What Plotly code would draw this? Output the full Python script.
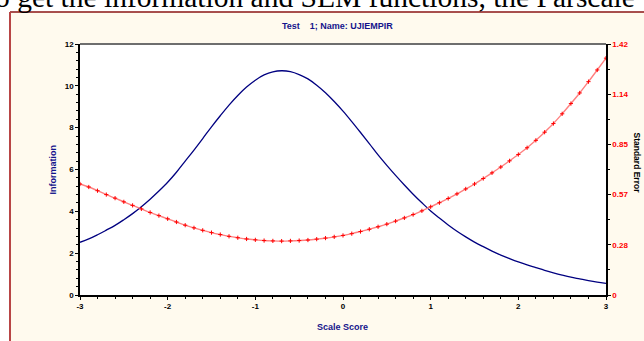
import plotly.graph_objects as go

# ---- data ----
theta = [round(-3.0 + 0.1 * i, 1) for i in range(61)]
information = [2.52, 2.68, 2.88, 3.10, 3.33, 3.60, 3.89, 4.22, 4.58, 4.97,
               5.39, 5.87, 6.40, 6.93, 7.48, 8.04, 8.57, 9.08, 9.54, 9.94,
               10.27, 10.52, 10.67, 10.72, 10.68, 10.54, 10.33, 10.03, 9.67, 9.25,
               8.79, 8.29, 7.77, 7.24, 6.70, 6.20, 5.72, 5.26, 4.82, 4.41,
               4.02, 3.68, 3.35, 3.05, 2.78, 2.53, 2.31, 2.10, 1.91, 1.74,
               1.58, 1.44, 1.31, 1.18, 1.06, 0.95, 0.85, 0.77, 0.69, 0.62,
               0.56]
std_error = [0.628, 0.611, 0.590, 0.568, 0.548, 0.527, 0.507, 0.487, 0.467, 0.449,
             0.431, 0.413, 0.395, 0.380, 0.366, 0.353, 0.342, 0.332, 0.324, 0.317,
             0.312, 0.308, 0.306, 0.305, 0.306, 0.308, 0.311, 0.316, 0.322, 0.329,
             0.337, 0.347, 0.359, 0.372, 0.386, 0.401, 0.418, 0.436, 0.455, 0.476,
             0.499, 0.522, 0.546, 0.572, 0.600, 0.628, 0.659, 0.691, 0.724, 0.759,
             0.795, 0.833, 0.875, 0.921, 0.970, 1.025, 1.083, 1.143, 1.207, 1.273,
             1.340]
x_ticks = [-3, -2, -1, 0, 1, 2, 3]
y_ticks = [0, 2, 4, 6, 8, 10, 12]
se_tickvals = [0, 0.284, 0.568, 0.852, 1.136, 1.42]
se_ticktext = ["0", "0.28", "0.57", "0.85", "1.14", "1.42"]
title_text = "Test\u00a0\u00a0\u00a0\u00a01; Name: UJIEMPIR"
doc_text = "o get the information and SEM functions, the Parscale"

# ---- geometry (pixels) ----
W, H = 644, 341
L, R, T, B = 80, 606, 44, 295
def px(x): return (x - L) / (R - L)
def py(y): return (B - y) / (B - T)

NAVY = "#14148C"
CREAM = "#FFFAEE"
FONT = "Liberation Sans"

fig = go.Figure()
fig.add_trace(go.Scatter(x=theta, y=information, mode="lines",
                         line=dict(color="#000080", width=1.3, shape="spline"),
                         name="Information", yaxis="y", showlegend=False))
fig.add_trace(go.Scatter(x=theta, y=std_error, mode="lines+markers",
                         line=dict(color="#FF8080", width=1.4, shape="spline"),
                         marker=dict(symbol="cross-thin", size=3, color="#FF0000",
                                     line=dict(color="#FF0000", width=1)),
                         name="Standard Error", yaxis="y2", showlegend=False))

tickfont = dict(family=FONT, size=8, color="black", weight="bold")

fig.update_layout(
    width=W, height=H,
    margin=dict(l=L, r=W - R, t=T, b=H - B, pad=0),
    paper_bgcolor="white", plot_bgcolor="white",
    xaxis=dict(range=[-3, 3], tickvals=x_ticks, ticktext=[str(v) for v in x_ticks],
               showgrid=False, zeroline=False, showline=True, linecolor="black",
               linewidth=1.5, ticks="outside", ticklen=3, tickcolor="black",
               tickfont=tickfont,
               minor=dict(dtick=0.2, tick0=-3, ticks="outside", ticklen=2,
                          tickcolor="black", showgrid=False)),
    yaxis=dict(range=[0, 12], tickvals=y_ticks, ticktext=[str(v) for v in y_ticks],
               showgrid=False, zeroline=False, showline=True, linecolor="black",
               linewidth=1.5, ticks="outside", ticklen=3, tickcolor="black",
               tickfont=tickfont,
               minor=dict(dtick=0.4, tick0=0, ticks="outside", ticklen=2,
                          tickcolor="black", showgrid=False)),
    yaxis2=dict(range=[0, 1.42], overlaying="y", side="right",
                tickvals=se_tickvals, ticktext=se_ticktext,
                showgrid=False, zeroline=False, showline=True, linecolor="black",
                linewidth=1.5, ticks="outside", ticklen=3, tickcolor="black",
                tickfont=dict(family=FONT, size=8, color="#FF0000", weight="bold"),
                minor=dict(dtick=0.142, tick0=0, ticks="outside", ticklen=2,
                           tickcolor="black", showgrid=False)),
    shapes=[
        dict(type="rect", xref="paper", yref="paper", layer="below",
             x0=px(10), x1=px(700), y0=py(400), y1=py(12),
             fillcolor=CREAM, line=dict(width=0)),
        dict(type="rect", xref="paper", yref="paper", layer="below",
             x0=0, x1=1, y0=0, y1=1, fillcolor="white", line=dict(width=0)),
        dict(type="line", xref="paper", yref="paper", layer="below",
             x0=px(10), x1=px(700), y0=py(12), y1=py(12),
             line=dict(color="#8B1414", width=1.5)),
        dict(type="line", xref="paper", yref="paper", layer="below",
             x0=px(10), x1=px(10), y0=py(400), y1=py(12),
             line=dict(color="#B84545", width=2)),
        dict(type="line", xref="paper", yref="paper", layer="above",
             x0=0, x1=1, y0=1, y1=1, line=dict(color="#6E6E6E", width=2.2)),
    ],
    annotations=[
        dict(text=title_text, xref="paper", yref="paper", x=px(337), y=py(26),
             xanchor="center", yanchor="middle", showarrow=False,
             font=dict(family=FONT, size=9, color=NAVY, weight="bold")),
        dict(text="Information", xref="paper", yref="paper", x=px(52), y=0.5,
             xanchor="center", yanchor="middle", showarrow=False, textangle=-90,
             font=dict(family=FONT, size=9, color=NAVY, weight="bold")),
        dict(text="Standard Error", xref="paper", yref="paper", x=px(636.5), y=py(163),
             xanchor="center", yanchor="middle", showarrow=False, textangle=90,
             font=dict(family=FONT, size=8.5, color="black", weight="bold")),
        dict(text="Scale Score", xref="paper", yref="paper", x=px(342), y=py(327),
             xanchor="center", yanchor="middle", showarrow=False,
             font=dict(family=FONT, size=9, color=NAVY, weight="bold")),
        dict(text=doc_text, xref="paper", yref="paper", x=px(-7), y=py(14.5),
             xanchor="left", yanchor="bottom", showarrow=False,
             font=dict(family="Liberation Serif", size=29.5, color="black")),
    ],
)

fig.write_html("out.html", config={"displayModeBar": False},
               post_script="document.body.style.margin='0px';")
